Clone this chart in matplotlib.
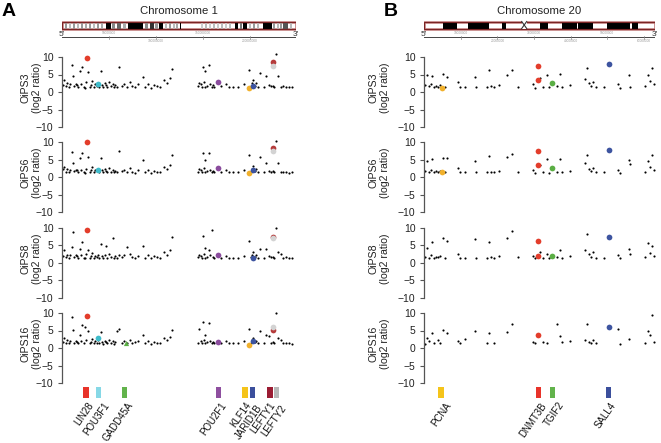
import numpy as np
import matplotlib
matplotlib.use("Agg")
import matplotlib.pyplot as plt
from matplotlib.patches import Rectangle
from matplotlib import font_manager

plt.rcParams['font.family'] = ['Liberation Sans', 'DejaVu Sans']
_names = {f.name for f in font_manager.fontManager.ttflist}
GENE_FONT = ['Liberation Sans Narrow', 'Liberation Sans'] if 'Liberation Sans Narrow' in _names else ['Liberation Sans']

# ---------------- data ----------------
samples = ["OiPS3", "OiPS6", "OiPS8", "OiPS16"]
nan = np.nan

# chromosome 1 probe positions (Mb)
chr1_pos = [1.0, 2.5, 4.0, 5.5, 7.0, 8.5, 10.3, 11.5, 13.0, 14.5, 16.0, 17.5, 19.0, 20.5, 21.7, 23.0, 24.5, 26.0, 28.0, 29.5,
            31.0, 32.5, 34.0, 35.5, 37.0, 38.0, 39.5, 41.2, 42.5, 44.0, 45.5, 47.0, 48.5, 50.0, 52.0, 54.0, 55.5, 57.0, 59.0, 61.0,
            63.5, 66.0, 69.0, 72.0, 75.0, 78.0, 81.0, 86.0, 89.0, 92.0, 95.0, 98.0, 101.0, 104.0, 108.7, 112.0, 115.0, 117.0,
            145.0, 146.5, 148.0, 149.0, 150.0, 151.0, 152.0, 153.0, 155.0, 156.5, 158.0, 159.5, 161.0, 162.5,
            166.0, 170.0, 175.0, 178.0, 182.0,
            188.0, 194.0, 199.7, 201.0, 202.5, 204.0, 205.5, 207.0, 209.0, 211.0,
            215.0, 218.0, 221.0, 223.0, 225.0, 226.5, 228.0, 230.0, 233.0, 236.0, 239.0, 242.0, 245.0]

chr1_oips3 = [2.1, 3.3, 1.8, 2.6, 1.4, 2.2, 7.6, 4.5, 1.6, 2.4, 2.0, 1.3, 6.0, 2.4, 7.1, 1.5, 1.2, 2.8, 5.7, 1.5,
              2.0, 3.2, 1.4, 2.3, 1.8, 2.6, 1.5, 5.9, 2.1, 1.3, 2.5, 1.9, 1.4, 2.8, 1.6, 2.2, 1.3, 2.0, 1.5, 7.1,
              1.8, 2.4, 1.3, 2.9, 1.7, 1.4, 2.2, 4.3, 1.5, 2.4, 1.2, 2.0, 1.6, 1.3, 3.3, 2.6, 4.0, 6.5,
              1.6, 2.5, 2.2, 1.4, 7.1, 2.8, 1.5, 5.9, 1.8, 7.6, 2.4, 1.5, 1.9, 1.3,
              2.6, 1.6, 2.3, 1.3, 1.5,
              1.4, 2.2, 6.2, 1.6, 2.5, 3.5, 1.8, 2.5, 1.4, 5.4,
              1.5, 4.5, 2.0, 1.6, 1.8, 1.4, 10.8, 4.5, 1.3, 1.6, 1.5, 1.4, 1.3]
chr1_oips6 = [2.3, 3.0, 1.6, 2.4, 1.5, 2.0, 7.3, 4.0, 1.7, 2.2, 2.1, 1.4, 5.5, 2.2, 7.0, 1.6, 1.3, 2.5, 5.7, 1.4,
              2.2, 2.9, 1.5, 2.1, 1.7, 2.4, 1.4, 5.4, 2.0, 1.4, 2.3, 1.8, 1.5, 2.6, 1.5, 2.0, 1.4, 1.9, 1.6, 7.5,
              1.7, 2.2, 1.4, 2.7, 1.6, 1.3, 2.0, 4.9, 1.4, 2.2, 1.3, 1.8, 1.5, 1.4, 3.0, 2.4, 3.6, 6.3,
              1.5, 2.3, 2.0, 1.5, 7.0, 2.6, 1.4, 4.9, 1.7, 7.0, 2.2, 1.6, 1.8, 1.4,
              2.4, 1.5, 2.1, 1.4, 1.6,
              1.5, 2.0, 6.3, 1.5, 2.3, 3.2, 1.7, 2.3, 1.5, 5.8,
              1.6, 4.1, 1.9, 1.5, 1.7, 1.5, 10.5, 4.1, 1.4, 1.5, 1.6, 1.3, 1.4]
chr1_oips8 = [2.0, 3.6, 1.5, 2.3, 1.4, 2.1, 4.5, 8.8, 1.5, 2.2, 1.9, 1.3, 4.0, 2.1, 5.9, 1.4, 1.2, 2.6, 3.5, 1.3,
              1.9, 2.8, 1.3, 2.0, 1.6, 2.3, 1.4, 5.2, 1.9, 1.2, 2.2, 4.7, 1.3, 2.4, 1.5, 6.9, 1.2, 1.8, 1.4, 2.1,
              1.6, 2.2, 4.5, 2.6, 1.5, 1.3, 2.0, 4.7, 1.4, 2.1, 1.2, 1.8, 1.5, 1.3, 3.0, 2.3, 3.5, 7.3,
              1.5, 2.2, 2.0, 1.3, 7.5, 2.5, 1.4, 4.2, 1.6, 3.5, 2.2, 9.2, 1.7, 1.3,
              2.2, 1.4, 2.0, 1.3, 1.4,
              1.3, 2.0, 6.2, 1.5, 2.2, 3.1, 1.6, 2.2, 1.3, 4.0,
              1.4, 4.0, 1.8, 1.5, 1.6, 1.3, 10.0, 3.0, 2.5, 1.4, 1.5, 1.3, 1.2]
chr1_oips16 = [1.8, 3.0, 1.5, 2.2, 1.4, 2.0, 9.0, 5.2, 1.5, 2.1, 1.8, 1.3, 3.8, 2.0, 6.5, 1.4, 6.0, 2.4, 4.9, 1.3,
               1.8, 2.6, 1.3, 1.9, 1.5, 2.2, 1.4, 4.6, 1.8, 1.2, 2.1, 1.7, 1.3, 2.3, 1.5, 2.0, 1.2, 1.7, 4.9, 5.5,
               1.5, 2.0, 1.3, 2.4, 1.4, 1.6, 1.9, 3.6, 1.3, 2.0, 1.2, 1.7, 1.4, 1.3, 2.8, 2.2, 3.2, 5.2,
               1.4, 5.5, 2.0, 1.3, 7.4, 2.4, 1.3, 3.8, 1.6, 7.1, 2.0, 1.5, 1.7, 1.3,
               2.0, 1.4, 1.9, 1.3, 1.4,
               1.3, 1.9, 5.5, 1.4, 2.2, 3.0, 1.6, 2.1, 1.3, 4.9,
               1.4, 3.8, 3.3, 1.5, 1.6, 1.3, 10.0, 3.0, 2.4, 1.4, 1.5, 1.3, 1.2]

# chromosome 20 probe positions (Mb)
chr20_pos = [0.3, 0.8, 1.3, 1.8, 2.3, 2.8, 3.3, 3.8, 4.3, 5.2, 5.8, 6.2, 9.4, 9.8, 11.2, 13.9, 14.2, 17.2, 17.8, 18.4,
             19.0, 20.5, 22.5, 24.0, 25.5, 29.8, 30.4, 31.6, 32.5, 33.5, 34.2, 36.2, 37.0, 37.6, 39.8, 43.8, 44.4, 45.0,
             45.6, 46.2, 47.0, 49.0, 52.8, 53.4, 55.8, 56.2, 60.3, 61.0, 61.6, 62.2, 62.7]
chr20_oips3 = [2.0, 4.8, 1.6, 2.2, 4.5, 1.5, 1.8, 1.4, 2.0, 5.2, 1.5, 4.2, 3.0, 1.5, 1.4, 4.3, 1.5, 1.4, 6.3, 1.8,
               1.5, 2.0, 4.8, 6.2, 1.4, 2.2, 1.2, 3.9, 1.5, 4.8, 1.4, 1.6, 5.2, 1.4, 2.0, 3.8, 6.8, 2.5,
               1.8, 2.9, 1.4, 1.5, 2.4, 1.2, 4.8, 1.5, 1.6, 5.0, 3.2, 6.8, 2.2]
chr20_oips6 = [1.8, 4.7, 1.5, 2.0, 5.1, 1.4, 1.7, 1.5, 1.9, 5.4, 1.4, 5.4, 2.8, 1.4, 1.5, 4.7, 1.4, 1.5, 6.1, 1.6,
               1.4, 1.9, 5.8, 6.7, 1.5, 2.0, 1.3, 3.6, 1.4, 5.1, 1.3, 1.5, 5.1, 1.5, 1.9, 4.2, 6.4, 2.3,
               1.7, 2.6, 1.5, 1.4, 2.2, 1.3, 4.9, 3.7, 1.5, 4.8, 3.0, 6.5, 2.0]
chr20_oips8 = [1.6, 4.2, 1.4, 2.2, 5.8, 1.3, 1.5, 1.6, 1.8, 7.0, 1.3, 6.2, 2.5, 1.4, 1.2, 6.8, 1.3, 1.4, 5.8, 1.5,
               1.3, 2.0, 7.0, 9.1, 1.5, 1.9, 1.2, 3.0, 1.4, 2.5, 1.3, 1.5, 3.7, 1.4, 1.8, 3.7, 8.1, 2.4,
               1.6, 3.0, 1.3, 1.4, 2.2, 1.2, 4.0, 2.4, 1.5, 5.6, 2.8, 4.8, 1.9]
chr20_oips16 = [1.2, 3.0, 2.0, nan, 4.3, 1.5, nan, 2.3, 1.5, 5.2, nan, 4.3, 1.9, 1.3, 2.5, 4.8, nan, 1.5, 4.3, nan,
                1.3, nan, 4.6, 6.9, nan, 1.8, 1.3, nan, 1.6, 1.3, nan, 6.9, 3.3, 1.6, 1.9, 2.4, 6.9, 1.8,
                1.5, 2.3, 1.4, nan, 5.5, 1.2, 2.7, nan, 1.4, 4.8, 3.6, 9.5, 1.6]

# genes marked below the panels (bar position, Mb)
chr1_genes = ["LIN28", "POU3F1", "GADD45A", "POU2F1", "KLF14", "JARID1B", "LEFTY1", "LEFTY2"]
chr1_gene_pos = [25.6, 38.7, 66.4, 166.6, 195.0, 202.9, 221.7, 228.4]
chr1_bar_colors = ["#e8332a", "#86d8e6", "#62b34c", "#8e4f9f", "#f5c41a", "#3b4f9c", "#9b1c33", "#b8b8b8"]
chr1_dot_colors = ["#e33d2b", "#3fbccb", "#5aae44", "#8b4c9e", "#f1b12d", "#3d54a0", "#b53b3b", "#d3d3d3"]
chr1_hit_x = [27.0, 38.7, 68.2, 166.6, 199.7, 204.0, 225.2, 225.2]
chr1_hit_oips3 = [9.7, 2.3, nan, 2.8, 1.1, 1.7, 8.5, 7.3]
chr1_hit_oips6 = [10.0, 2.1, nan, 2.8, 1.1, 2.0, 8.4, 7.5]
chr1_hit_oips8 = [9.4, nan, nan, 2.1, nan, 1.4, 7.3, 7.1]
chr1_hit_oips16 = [9.1, 2.9, 1.5, 1.7, 1.0, 1.9, 5.2, 6.0]

chr20_genes = ["PCNA", "DNMT3B", "TGIF2", "SALL4"]
chr20_gene_pos = [4.6, 31.2, 35.0, 50.4]
chr20_bar_colors = ["#f5c41a", "#e8332a", "#62b34c", "#3b4f9c"]
chr20_dot_colors = ["#f1b12d", "#e33d2b", "#5aae44", "#3d54a0"]
chr20_hit_gene = [0, 1, 1, 2, 3]
chr20_hit_x = [4.8, 31.2, 31.2, 35.0, 50.5]
chr20_hit_oips3 = [1.2, 7.4, 3.5, 2.6, 8.0]
chr20_hit_oips6 = [1.5, 7.4, 3.6, 2.6, 7.9]
chr20_hit_oips8 = [nan, 6.3, 2.0, 2.0, 7.4]
chr20_hit_oips16 = [nan, nan, 3.7, nan, 5.9]

# ---------------- layout (pixels) ----------------
W, H = 661, 443
fig = plt.figure(figsize=(W / 100, H / 100), dpi=100)


def frac(l, t, w, h):
    return [l / W, 1 - (t + h) / H, w / W, h / H]


row_top10 = [57, 142.3, 227.6, 313]   # pixel row of y = 10 for each sample
unit = 3.5                             # pixels per log2 unit
YMIN, YMAX = -10, 11.5

# label anchor offsets (px) from bar centre: (dx, dy)
chr1_label_off = [(1.5, 0), (4.5, 0), (3, 0), (2, 0), (0, 0), (3.7, 3), (-1, 0), (3.7, 3)]
chr20_label_off = [(4, 0), (2, 1), (6, 0), (1, 0)]

panels = [
    dict(left=62, width=234, L=249.5, name="Chromosome 1", letter="A", letter_x=2,
         pos=chr1_pos, vals=[chr1_oips3, chr1_oips6, chr1_oips8, chr1_oips16],
         genes=chr1_genes, gpos=chr1_gene_pos, bcol=chr1_bar_colors, loff=chr1_label_off,
         hit_gene=list(range(8)), hit_x=chr1_hit_x, dcol=chr1_dot_colors,
         hits=[chr1_hit_oips3, chr1_hit_oips6, chr1_hit_oips8, chr1_hit_oips16],
         labx=-0.085, ticks=[50, 100, 150, 200]),
    dict(left=424, width=231, L=63.0, name="Chromosome 20", letter="B", letter_x=384,
         pos=chr20_pos, vals=[chr20_oips3, chr20_oips6, chr20_oips8, chr20_oips16],
         genes=chr20_genes, gpos=chr20_gene_pos, bcol=chr20_bar_colors, loff=chr20_label_off,
         hit_gene=chr20_hit_gene, hit_x=chr20_hit_x, dcol=chr20_dot_colors,
         hits=[chr20_hit_oips3, chr20_hit_oips6, chr20_hit_oips8, chr20_hit_oips16],
         labx=-0.147, ticks=[10, 20, 30, 40, 50, 60]),
]

# chromosome band decorations (pixel extents)
chr1_bands = [(65, 67, '#999'), (69, 71, '#bbb'), (73, 75, '#999'), (77, 79, '#bbb'), (81, 83, '#999'),
              (85, 87, '#aaa'), (89, 91, '#999'), (93, 95, '#bbb'), (97, 99, '#999'), (101, 103, '#aaa'),
              (106, 110.7, 'black'), (112, 115, '#888'), (117, 121, '#666'), (123, 126, '#aaa'),
              (127.7, 143.3, 'black'), (145, 148, '#888'), (150, 154, '#333'), (155, 158, '#999'),
              (159.3, 162.7, 'black'), (165, 167, '#bbb'), (169, 171, '#999'), (173, 175, '#bbb'),
              (176, 178, '#aaa'), (179.5, 180.5, 'black'),
              (201, 203, '#ccc'), (205, 207, '#bbb'), (209, 211, '#ccc'), (213, 215, '#bbb'), (217, 219, '#ccc'),
              (221, 223, '#bbb'), (225, 227, '#ccc'), (229, 231, '#bbb'), (235, 238, 'black'), (239.5, 242, '#777'),
              (243.3, 247.3, 'black'), (249, 251, '#bbb'), (253, 255, '#999'), (257, 259, '#bbb'),
              (262.7, 271.7, 'black'), (273, 275, '#999'), (277, 279, '#bbb'), (280, 282, '#999'),
              (283, 288, '#555'), (290, 292, '#bbb')]
chr20_bands = [(442.7, 456.7, 'black'), (467.7, 489.3, 'black'), (501.7, 506, 'black'), (540, 548.3, 'black'),
               (561.7, 576.7, 'black'), (578.3, 593.3, 'black'), (606.7, 630, 'black'), (631.7, 638.3, 'black')]
band_sets = [chr1_bands, chr20_bands]

for pi, P in enumerate(panels):
    left, width, L = P['left'], P['width'], P['L']
    px2mb = lambda px: (px - left) * L / width
    mb_per_px = L / width
    # ---- ideogram ----
    axi = fig.add_axes(frac(left, 15, width, 30))
    axi.set_xlim(0, L)
    axi.set_ylim(45, 15)
    axi.axis('off')
    for (a, b, c) in band_sets[pi]:
        axi.add_patch(Rectangle((px2mb(a), 21.5), px2mb(b) - px2mb(a), 7, facecolor=c, edgecolor='none', zorder=2))
    axi.add_patch(Rectangle((0, 21.5), L, 7, facecolor='white', edgecolor='#c27a7a', lw=1.8, zorder=1))
    axi.add_patch(Rectangle((0, 21.5), L, 7, facecolor='none', edgecolor='#7a2424', lw=0.8, zorder=3))
    if pi == 1:
        c0, c1 = px2mb(521.7), px2mb(526.7)
        axi.add_patch(Rectangle((c0, 21), c1 - c0, 8, facecolor='white', edgecolor='none', zorder=4))
        axi.plot([c0, c1], [21.5, 28.5], color='#333', lw=0.8, zorder=5)
        axi.plot([c0, c1], [28.5, 21.5], color='#333', lw=0.8, zorder=5)
    axi.plot([0, L], [37, 37], color='#444', lw=0.7)
    axi.text(0, 37.8, "5'", fontsize=6, ha='center', va='bottom', color='#333')
    axi.text(L, 37.8, "3'", fontsize=6, ha='center', va='bottom', color='#333')
    for k, t in enumerate(P['ticks']):
        axi.plot([t, t], [35.5, 38.5], color='#888', lw=0.5)
        lab = str(int(t * 1000000))
        if k % 2 == 0:
            axi.text(t, 35.3, lab, fontsize=2.3, ha='center', va='bottom', color='#999')
        else:
            axi.text(t, 38.8, lab, fontsize=2.3, ha='center', va='top', color='#999')
    axi.text(L / 2, 11.5, P['name'], fontsize=8.2, ha='center', va='center', color='#222', clip_on=False)
    fig.text(P['letter_x'] / W, 1 - 3 / H, P['letter'], fontsize=14, fontweight='bold', va='top', ha='left')

    # ---- sample rows ----
    for ri, s in enumerate(samples):
        top = row_top10[ri] - (YMAX - 10) * unit
        ax = fig.add_axes(frac(left, top, width, (YMAX - YMIN) * unit))
        ax.set_xlim(0, L)
        ax.set_ylim(YMIN, YMAX)
        for sp in ['top', 'right', 'bottom']:
            ax.spines[sp].set_visible(False)
        ax.spines['left'].set_bounds(-10, 10)
        ax.spines['left'].set_color('#555')
        ax.spines['left'].set_linewidth(0.9)
        ax.set_xticks([])
        ax.set_yticks([-10, -5, 0, 5, 10])
        ax.tick_params(axis='y', labelsize=7.5, length=3, width=0.8, pad=3.2, colors='#555', labelcolor='#222')
        ax.patch.set_alpha(0)
        ax.set_ylabel(f"{s}\n(log2 ratio)", fontsize=7.6, linespacing=1.15, color='#222')
        ax.yaxis.set_label_coords(P['labx'], 0.52)
        ax.scatter(P['pos'], P['vals'][ri], s=2.4, c='black', linewidths=0, zorder=2, clip_on=False)
        hv = P['hits'][ri]
        for gi, hx, hy in zip(P['hit_gene'], P['hit_x'], hv):
            if np.isnan(hy):
                continue
            marker = '^' if P['genes'][gi] == "GADD45A" else 'o'
            ax.scatter([hx], [hy], s=17 if marker == 'o' else 14, c=P['dcol'][gi], marker=marker,
                       linewidths=0, zorder=4, clip_on=False)
        if ri == len(samples) - 1:
            bw = 5.3 * mb_per_px
            for g, gx, gc, (dx, dy) in zip(P['genes'], P['gpos'], P['bcol'], P['loff']):
                ax.add_patch(Rectangle((gx - bw / 2, -14.4), bw, 3.2, facecolor=gc, edgecolor='none',
                                       clip_on=False))
                ax.text(gx + dx * mb_per_px, -14.9 - dy / unit, g, rotation=55, rotation_mode='anchor',
                        ha='right', va='top', fontsize=7.0, family=GENE_FONT, color='#111', clip_on=False)

fig.savefig("out.png", dpi=100)
